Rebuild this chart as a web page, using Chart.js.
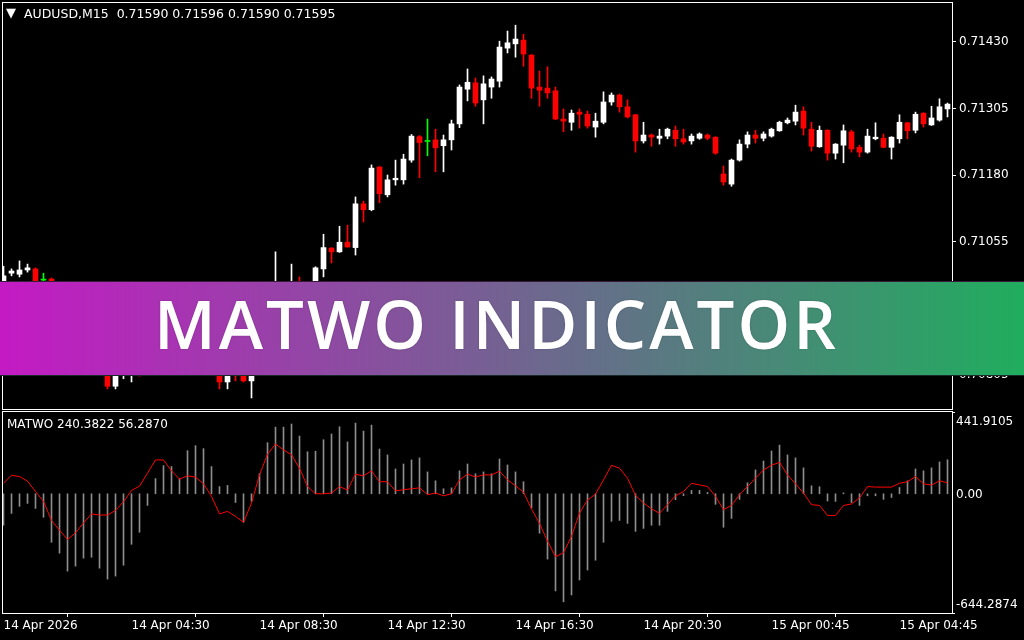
<!DOCTYPE html>
<html>
<head>
<meta charset="utf-8">
<script src="https://cdn.jsdelivr.net/npm/chart.js@4.4.1/dist/chart.umd.min.js"></script>
<style>
  html, body { margin: 0; padding: 0; background: #000; width: 1024px; height: 640px; overflow: hidden; font-family: "DejaVu Sans", sans-serif; }
  canvas { position: absolute; left: 0; }
  #main { top: 0; }
  #ind { top: 410px; }
  .lbl { position: absolute; color: #fff; font-size: 12px; line-height: 14px; white-space: pre; }
  #banner {
    position: absolute; left: 0; top: 282px; width: 1024px; height: 93px; box-sizing: border-box;
    padding-right: 31px;
    background: linear-gradient(90deg, #c41ac4 0%, #20ad5e 100%);
    box-shadow: 0 -1px 0 #3a1a3a, 0 1px 0 #1a2a2a;
    color: #fff; font-family: "Open Sans", sans-serif; font-weight: 600; font-size: 67px;
    letter-spacing: 3px; line-height: 82px; text-align: center;
    text-shadow: 0 0 2px rgba(0,0,0,0.25);
  }
</style>
</head>
<body>
<canvas id="main" width="1024" height="410"></canvas>
<canvas id="ind" width="1024" height="230"></canvas>
<div class="lbl" style="left:6px;top:6px;font-size:13px;">▼</div>
<div class="lbl" style="left:24px;top:7px;font-size:12.5px;">AUDUSD,M15  0.71590 0.71596 0.71590 0.71595</div>
<div class="lbl" style="left:7px;top:417px;">MATWO 240.3822 56.2870</div>
<div id="banner">MATWO INDICATOR</div>

<script>
// AUDUSD M15 candles
const OPEN = [
  0.70964, 0.70996, 0.70994, 0.71002, 0.71004, 0.70983, 0.70985, 0.70968, 0.70946, 0.70918,
  0.70931, 0.70897, 0.70871, 0.70837, 0.70784, 0.70814, 0.70818, 0.70829, 0.70814, 0.70829,
  0.70848, 0.70863, 0.70852, 0.70867, 0.70882, 0.70859, 0.70837, 0.70818, 0.70792, 0.70822,
  0.70811, 0.70794, 0.70824, 0.70871, 0.70912, 0.70961, 0.70946, 0.70968, 0.70953, 0.70968,
  0.71004, 0.71043, 0.71036, 0.71054, 0.71044, 0.71126, 0.71115, 0.71195, 0.71143, 0.71171,
  0.71171, 0.71208, 0.71252, 0.71243, 0.71246, 0.71235, 0.71246, 0.71276, 0.71341, 0.71353,
  0.71321, 0.71345, 0.71356, 0.71418, 0.71426, 0.71433, 0.71405, 0.71345, 0.71343, 0.71338,
  0.71285, 0.71279, 0.71298, 0.71294, 0.71270, 0.71279, 0.71317, 0.71330, 0.71308, 0.71293,
  0.71244, 0.71255, 0.71249, 0.71253, 0.71264, 0.71248, 0.71244, 0.71249, 0.71255, 0.71251,
  0.71182, 0.71163, 0.71208, 0.71238, 0.71255, 0.71249, 0.71253, 0.71263, 0.71278, 0.71281,
  0.71300, 0.71266, 0.71233, 0.71264, 0.71221, 0.71236, 0.71261, 0.71232, 0.71223, 0.71248,
  0.71249, 0.71232, 0.71248, 0.71278, 0.71264, 0.71296, 0.71274, 0.71283, 0.71304
];
const HIGH = [
  0.71009, 0.71004, 0.71019, 0.71013, 0.71006, 0.70996, 0.70987, 0.70976, 0.70953, 0.70936,
  0.70938, 0.70904, 0.70878, 0.70848, 0.70833, 0.70843, 0.70837, 0.70837, 0.70833, 0.70852,
  0.70871, 0.70871, 0.70874, 0.70889, 0.70889, 0.70867, 0.70844, 0.70829, 0.70829, 0.70829,
  0.70822, 0.70833, 0.70880, 0.70918, 0.71036, 0.70972, 0.71013, 0.70989, 0.70976, 0.71008,
  0.71069, 0.71044, 0.71084, 0.71086, 0.71139, 0.71131, 0.71199, 0.71196, 0.71180, 0.71208,
  0.71219, 0.71256, 0.71254, 0.71285, 0.71266, 0.71255, 0.71283, 0.71349, 0.71379, 0.71362,
  0.71366, 0.71364, 0.71431, 0.71450, 0.71461, 0.71444, 0.71406, 0.71375, 0.71383, 0.71345,
  0.71304, 0.71302, 0.71304, 0.71300, 0.71296, 0.71336, 0.71334, 0.71332, 0.71321, 0.71294,
  0.71279, 0.71257, 0.71266, 0.71268, 0.71272, 0.71266, 0.71257, 0.71259, 0.71257, 0.71252,
  0.71197, 0.71210, 0.71246, 0.71261, 0.71264, 0.71261, 0.71268, 0.71281, 0.71287, 0.71311,
  0.71308, 0.71279, 0.71272, 0.71265, 0.71239, 0.71274, 0.71264, 0.71236, 0.71266, 0.71278,
  0.71257, 0.71252, 0.71293, 0.71279, 0.71298, 0.71297, 0.71309, 0.71323, 0.71315
];
const LOW = [
  0.70946, 0.70991, 0.70989, 0.70998, 0.70976, 0.70968, 0.70961, 0.70936, 0.70908, 0.70912,
  0.70889, 0.70861, 0.70829, 0.70779, 0.70779, 0.70798, 0.70792, 0.70803, 0.70807, 0.70822,
  0.70841, 0.70841, 0.70844, 0.70859, 0.70852, 0.70829, 0.70811, 0.70779, 0.70779, 0.70794,
  0.70792, 0.70762, 0.70818, 0.70861, 0.70904, 0.70936, 0.70938, 0.70946, 0.70946, 0.70961,
  0.70989, 0.71015, 0.71035, 0.71045, 0.71030, 0.71092, 0.71113, 0.71128, 0.71139, 0.71161,
  0.71163, 0.71204, 0.71175, 0.71216, 0.71186, 0.71186, 0.71227, 0.71269, 0.71319, 0.71309,
  0.71276, 0.71324, 0.71345, 0.71409, 0.71401, 0.71384, 0.71324, 0.71309, 0.71324, 0.71284,
  0.71261, 0.71264, 0.71268, 0.71268, 0.71251, 0.71276, 0.71311, 0.71298, 0.71287, 0.71223,
  0.71240, 0.71234, 0.71238, 0.71248, 0.71234, 0.71238, 0.71238, 0.71247, 0.71246, 0.71219,
  0.71161, 0.71159, 0.71206, 0.71231, 0.71240, 0.71244, 0.71251, 0.71262, 0.71276, 0.71274,
  0.71255, 0.71225, 0.71232, 0.71208, 0.71210, 0.71203, 0.71223, 0.71214, 0.71221, 0.71246,
  0.71231, 0.71210, 0.71240, 0.71248, 0.71259, 0.71270, 0.71273, 0.71281, 0.71289
];
const CLOSE = [
  0.70991, 0.71000, 0.71002, 0.71006, 0.70981, 0.70983, 0.70968, 0.70946, 0.70918, 0.70931,
  0.70897, 0.70871, 0.70837, 0.70784, 0.70824, 0.70829, 0.70829, 0.70814, 0.70829, 0.70848,
  0.70863, 0.70852, 0.70867, 0.70882, 0.70859, 0.70837, 0.70818, 0.70792, 0.70822, 0.70811,
  0.70794, 0.70824, 0.70871, 0.70912, 0.70961, 0.70946, 0.70968, 0.70953, 0.70972, 0.71006,
  0.71044, 0.71036, 0.71054, 0.71045, 0.71126, 0.71115, 0.71193, 0.71145, 0.71171, 0.71174,
  0.71210, 0.71253, 0.71241, 0.71243, 0.71231, 0.71246, 0.71276, 0.71345, 0.71354, 0.71315,
  0.71351, 0.71360, 0.71420, 0.71428, 0.71435, 0.71407, 0.71343, 0.71339, 0.71334, 0.71285,
  0.71281, 0.71296, 0.71294, 0.71272, 0.71281, 0.71317, 0.71330, 0.71308, 0.71289, 0.71244,
  0.71255, 0.71251, 0.71253, 0.71266, 0.71248, 0.71242, 0.71253, 0.71257, 0.71249, 0.71221,
  0.71167, 0.71208, 0.71238, 0.71255, 0.71249, 0.71257, 0.71266, 0.71279, 0.71283, 0.71298,
  0.71268, 0.71234, 0.71264, 0.71221, 0.71238, 0.71263, 0.71229, 0.71223, 0.71253, 0.71251,
  0.71232, 0.71251, 0.71279, 0.71263, 0.71294, 0.71276, 0.71287, 0.71308, 0.71313
];

// MATWO histogram and signal line
const MATWO_HIST = [
  -170, -106, -68, -52, -79, -127, -262, -321, -418, -391,
  -348, -343, -402, -461, -445, -386, -273, -208, -63, 82,
  152, 147, 82, 233, 260, 244, 147, 39, 45, -47,
  -154, -41, 109, 276, 360, 360, 377, 312, 227, 230,
  292, 323, 362, 280, 382, 339, 371, 242, 210, 134,
  161, 183, 194, 118, 70, 27, 32, 124, 161, 108,
  118, 108, 188, 156, 118, 65, -77, -213, -353, -525,
  -584, -547, -466, -412, -359, -262, -149, -144, -160, -203,
  -187, -170, -170, -95, -32, -10, 18, 18, 7, -57,
  -181, -133, -30, 59, 129, 177, 231, 263, 210, 194,
  140, 43, 38, -39, -41, 5, -47, -63, -11, -11,
  -30, -20, 34, 70, 134, 124, 140, 172, 184
];
const MATWO_LINE = [
  57, 100, 93, 68, 12, -41, -144, -197, -247, -211,
  -158, -109, -115, -115, -90, -43, 18, 41, 111, 183,
  183, 124, 79, 97, 90, 54, -14, -109, -95, -122,
  -154, -50, 102, 213, 269, 237, 211, 138, 39, 0,
  0, 4, 39, 20, 106, 97, 124, 65, 65, 16,
  22, 27, 32, -5, 4, -11, 0, 75, 106, 91,
  102, 102, 122, 75, 43, 9, -82, -160, -256, -340,
  -319, -230, -104, -34, -2, 75, 154, 138, 84, -9,
  -50, -81, -106, -59, -11, 12, 57, 48, 39, -14,
  -86, -63, -5, 39, 84, 129, 154, 170, 102, 54,
  4, -59, -63, -117, -117, -63, -55, -22, 39, 36,
  36, 36, 57, 65, 93, 54, 47, 70, 59
];

const PRICE_TICKS = [0.70805, 0.70930, 0.71055, 0.71180, 0.71305, 0.71430];
const PRICE_MIN = 0.707413;
const PRICE_MAX = 0.715045;
const IND_MIN = -644.2874;
const IND_MAX = 441.9105;
const IND_LABELS = ['441.9105', '0.00', '-644.2874'];
const TIME_TICKS = [0, 16, 32, 48, 64, 80, 96, 112];
const TIME_LABELS = ['14 Apr 2026', '14 Apr 04:30', '14 Apr 08:30', '14 Apr 12:30', '14 Apr 16:30', '14 Apr 20:30', '15 Apr 00:45', '15 Apr 04:45'];

// bar index range visible in the window (bar 0 sits just inside the left frame)
const X_MIN = -0.1875;
const X_MAX = 118.5625;

const FONT = { family: 'DejaVu Sans', size: 12 };
const idx = OPEN.map((_, i) => i);
const candleColor = i => OPEN[i] === CLOSE[i] ? '#00ff00' : (CLOSE[i] > OPEN[i] ? '#ffffff' : '#ff0000');
const colors = idx.map(candleColor);

// no extra room for the edge labels, MT4 lets them overhang
const fitRight = s => { s.width = 72; s.paddingTop = 0; s.paddingBottom = 0; };

const framePlugin = {
  id: 'frame',
  afterDraw(chart) {
    const { ctx, chartArea: a } = chart;
    const top = chart.canvas.id === 'ind' ? a.top - 1 : a.top;
    ctx.save();
    ctx.strokeStyle = '#ffffff';
    ctx.lineWidth = 1;
    ctx.strokeRect(a.left + 0.5, top + 0.5, a.right - a.left, a.bottom - top);
    ctx.restore();
  }
};

const indLabelsPlugin = {
  id: 'indLabels',
  afterDraw(chart) {
    const { ctx, scales: { y } } = chart;
    ctx.save();
    ctx.fillStyle = '#ffffff';
    ctx.font = '12px "DejaVu Sans"';
    ctx.textAlign = 'left';
    ctx.textBaseline = 'middle';
    ctx.fillText(IND_LABELS[0], y.left + 4, y.getPixelForValue(IND_MAX) + 10);
    ctx.fillText(IND_LABELS[1], y.left + 4, y.getPixelForValue(0) + 1);
    ctx.fillText(IND_LABELS[2], y.left + 4, y.getPixelForValue(IND_MIN) - 8);
    ctx.restore();
  }
};

// price panel
new Chart(document.getElementById('main'), {
  type: 'bar',
  data: {
    datasets: [
      {
        data: idx.map(i => ({ x: i, y: [LOW[i], HIGH[i]] })),
        backgroundColor: colors, barThickness: 1, grouped: false, minBarLength: 1
      },
      {
        data: idx.map(i => ({ x: i, y: [OPEN[i], CLOSE[i]] })),
        backgroundColor: colors, barThickness: 5, grouped: false, minBarLength: 1
      }
    ]
  },
  options: {
    responsive: false,
    animation: false,
    layout: { padding: { left: 2, top: 2, right: 0, bottom: 1 } },
    plugins: { legend: { display: false }, tooltip: { enabled: false } },
    scales: {
      x: { type: 'linear', display: false, min: X_MIN, max: X_MAX, offset: false },
      y: {
        position: 'right',
        min: PRICE_MIN,
        max: PRICE_MAX,
        afterFit: fitRight,
        afterBuildTicks: s => { s.ticks = PRICE_TICKS.map(v => ({ value: v })); },
        ticks: { color: '#ffffff', font: FONT, padding: 3, autoSkip: false, callback: v => v.toFixed(5) },
        grid: { drawOnChartArea: false, color: '#ffffff', tickLength: 4 },
        border: { display: false }
      }
    }
  },
  plugins: [framePlugin]
});

// MATWO panel
new Chart(document.getElementById('ind'), {
  type: 'bar',
  data: {
    datasets: [
      {
        type: 'line',
        data: idx.map(i => ({ x: i, y: MATWO_LINE[i] })),
        borderColor: '#ff0000', borderWidth: 1, pointRadius: 0, tension: 0, order: 0
      },
      {
        data: idx.map(i => ({ x: i, y: MATWO_HIST[i] })),
        backgroundColor: '#8c8c8c', barThickness: 1, grouped: false, order: 1
      }
    ]
  },
  options: {
    responsive: false,
    animation: false,
    layout: { padding: { left: 2, top: 2, right: 0, bottom: 0 } },
    plugins: { legend: { display: false }, tooltip: { enabled: false } },
    scales: {
      x: {
        type: 'linear',
        min: X_MIN,
        max: X_MAX,
        offset: false,
        afterFit: s => { s.height = 27; },
        afterBuildTicks: s => { s.ticks = TIME_TICKS.map(v => ({ value: v })); },
        ticks: {
          color: '#ffffff', font: FONT, padding: 2, align: 'start', maxRotation: 0, autoSkip: false,
          callback: v => TIME_LABELS[TIME_TICKS.indexOf(v)]
        },
        grid: { drawOnChartArea: false, color: '#ffffff', tickLength: 4 },
        border: { display: false }
      },
      y: {
        position: 'right',
        min: IND_MIN,
        max: IND_MAX,
        afterFit: fitRight,
        afterBuildTicks: s => { s.ticks = [IND_MIN, IND_MAX].map(v => ({ value: v })); },
        ticks: { display: false },
        grid: { drawOnChartArea: false, color: '#ffffff', tickLength: 3 },
        border: { display: false }
      }
    }
  },
  plugins: [framePlugin, indLabelsPlugin]
});
</script>
</body>
</html>
